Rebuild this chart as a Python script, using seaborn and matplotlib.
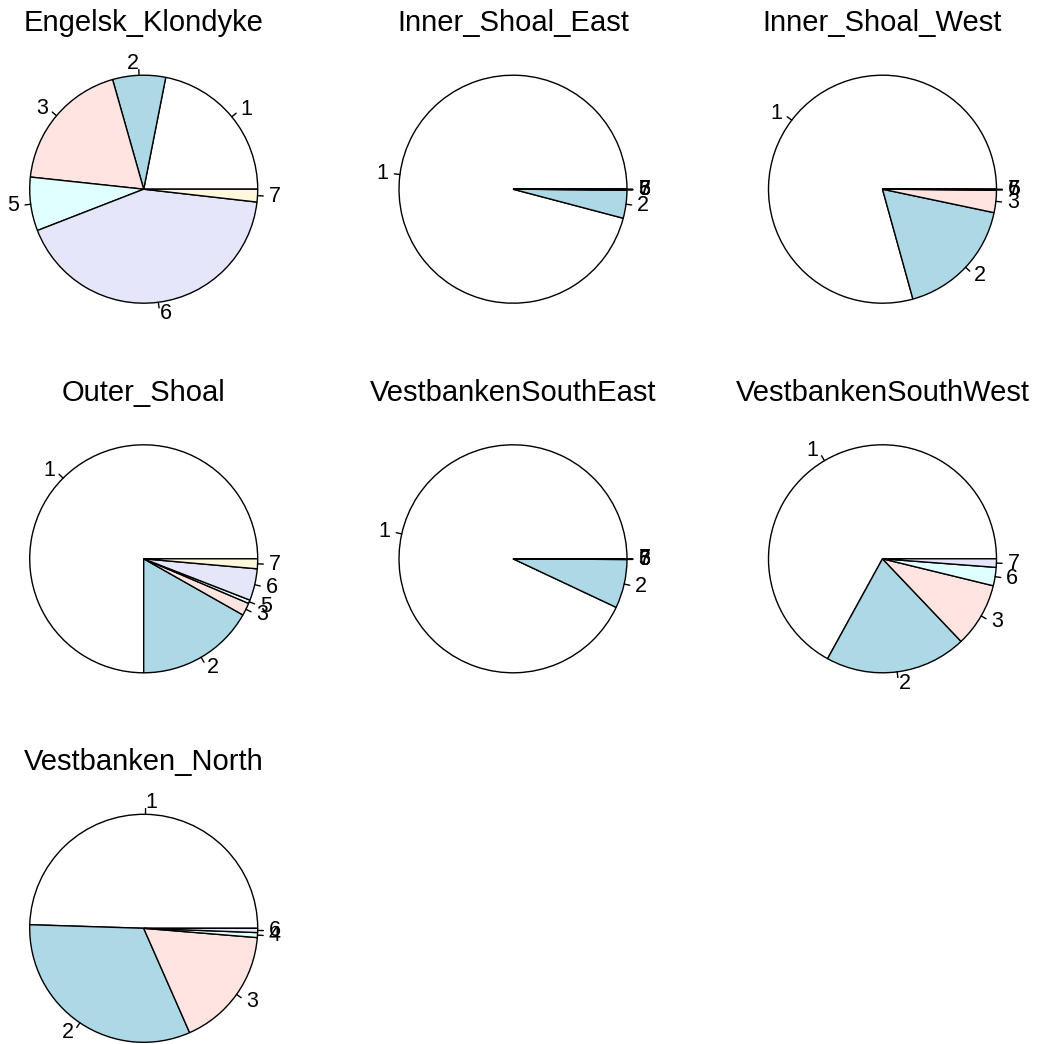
import numpy as np
import matplotlib
matplotlib.use("Agg")
import matplotlib.pyplot as plt
import seaborn as sns

sns.set_theme(style="white")
plt.rcParams["font.family"] = ["Liberation Sans", "DejaVu Sans"]
plt.rcParams["text.color"] = "black"

# Share of each class per fishing area (percent)
engelsk_klondyke_labels = ["1", "2", "3", "5", "6", "7"]
engelsk_klondyke_values = [21.9, 7.5, 18.9, 7.6, 42.3, 1.8]

inner_shoal_east_labels = ["1", "2", "3", "5", "6", "7"]
inner_shoal_east_values = [95.9, 4.0, 0.03, 0.02, 0.03, 0.02]

inner_shoal_west_labels = ["1", "2", "3", "5", "6", "7"]
inner_shoal_west_values = [79.3, 17.4, 3.2, 0.03, 0.03, 0.04]

outer_shoal_labels = ["1", "2", "3", "5", "6", "7"]
outer_shoal_values = [75.0, 16.8, 1.8, 0.5, 4.5, 1.4]

vb_south_east_labels = ["1", "2", "3", "5", "6", "7"]
vb_south_east_values = [93.0, 6.9, 0.03, 0.02, 0.03, 0.02]

vb_south_west_labels = ["1", "2", "3", "6", "7"]
vb_south_west_values = [67.0, 20.1, 9.1, 2.6, 1.2]

vb_north_labels = ["1", "2", "3", "4", "6"]
vb_north_values = [49.5, 32.1, 17.1, 0.7, 0.6]

areas = ["Engelsk_Klondyke", "Inner_Shoal_East", "Inner_Shoal_West",
         "Outer_Shoal", "VestbankenSouthEast", "VestbankenSouthWest",
         "Vestbanken_North"]
area_labels = [engelsk_klondyke_labels, inner_shoal_east_labels,
               inner_shoal_west_labels, outer_shoal_labels,
               vb_south_east_labels, vb_south_west_labels, vb_north_labels]
area_values = [engelsk_klondyke_values, inner_shoal_east_values,
               inner_shoal_west_values, outer_shoal_values,
               vb_south_east_values, vb_south_west_values, vb_north_values]

# classic pie palette, recycled
pie_colors = ["white", "#ADD8E6", "#FFE4E1", "#E0FFFF", "#E6E6FA", "#FFF8DC"]

W, H = 1042, 1044
fig = plt.figure(figsize=(W / 100, H / 100), dpi=100)
fig.patch.set_facecolor("white")

col_x = [143.7, 513.0, 882.5]
row_y = [189.2, 558.8, 928.3]
radius_px = 114.0
half_px = 170.0
lim = half_px / radius_px

for i, (name, labs, vals) in enumerate(zip(areas, area_labels, area_values)):
    r, c = divmod(i, 3)
    cx, cy = col_x[c], row_y[r]
    ax = fig.add_axes([(cx - half_px) / W, (H - cy - half_px) / H,
                       2 * half_px / W, 2 * half_px / H])
    cols = [pie_colors[k % len(pie_colors)] for k in range(len(vals))]
    wedges, _ = ax.pie(vals, colors=cols, startangle=0, counterclock=True,
                       radius=1.0,
                       wedgeprops=dict(edgecolor="black", linewidth=1.0))
    for w, lab in zip(wedges, labs):
        mid = np.deg2rad(0.5 * (w.theta1 + w.theta2))
        px, py = np.cos(mid), np.sin(mid)
        ax.plot([px, 1.05 * px], [py, 1.05 * py], color="black", lw=1.0,
                clip_on=False)
        ax.text(1.1 * px, 1.1 * py, lab, fontsize=15.5, color="black",
                ha="right" if px < 0 else "left", va="center",
                clip_on=False)
    ax.text(0, 166.0 / radius_px, name, fontsize=21, color="black",
            ha="center", va="center", clip_on=False)
    ax.set_xlim(-lim, lim)
    ax.set_ylim(-lim, lim)
    ax.set_aspect("equal")
    ax.axis("off")

fig.savefig("out.png", dpi=100, facecolor="white")
